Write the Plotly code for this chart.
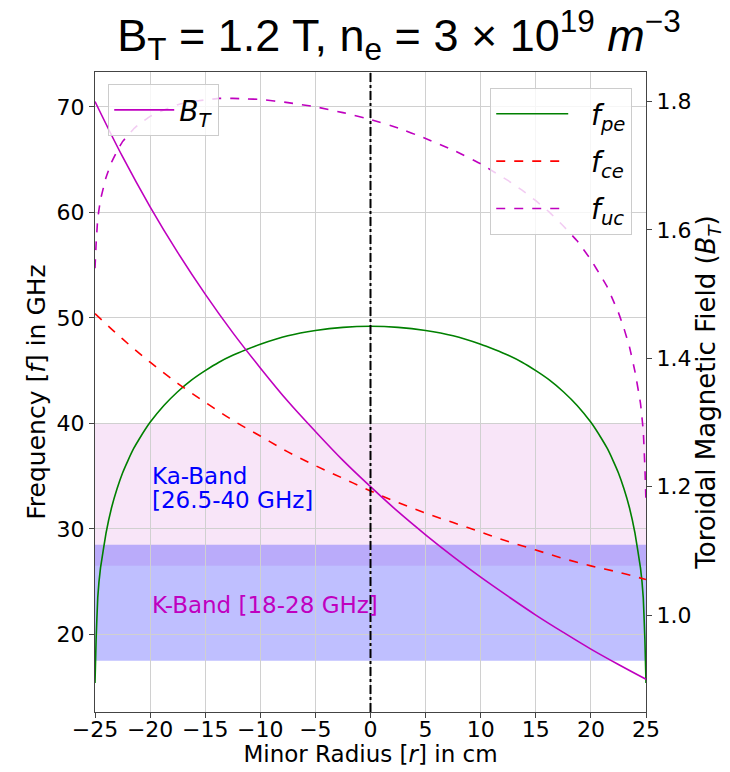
import plotly.graph_objects as go

# ---- data ----
r_coarse = [-25, -22.5, -20, -17.5, -15, -12.5, -10, -7.5, -5, -2.5, 0,
            2.5, 5, 7.5, 10, 12.5, 15, 17.5, 20, 22.5, 25]
B_T = [1.800, 1.714, 1.636, 1.565, 1.500, 1.440, 1.385, 1.333, 1.286, 1.241, 1.200,
       1.161, 1.125, 1.091, 1.059, 1.029, 1.000, 0.973, 0.947, 0.923, 0.900]
f_ce = [50.4, 48.0, 45.8, 43.8, 42.0, 40.3, 38.8, 37.3, 36.0, 34.8, 33.6,
        32.5, 31.5, 30.6, 29.7, 28.8, 28.0, 27.2, 26.5, 25.9, 25.2]

r_fine = [-25, -24.9, -24.75, -24.5, -24, -23.5, -23, -22.5, -22, -21.5, -21, -20,
          -18.75, -17.5, -16.25, -15, -13.75, -12.5, -11.25, -10, -7.5, -5, -2.5, 0,
          2.5, 5, 7.5, 10, 11.25, 12.5, 13.75, 15, 16.25, 17.5, 18.75, 20,
          21, 21.5, 22, 22.5, 23, 23.5, 24, 24.5, 24.75, 24.9, 25]
f_pe = [15.4, 19.5, 23.5, 26.3, 29.6, 32.0, 33.8, 35.3, 36.5, 37.6, 38.5, 40.1,
        41.7, 43.0, 44.1, 45.0, 45.8, 46.45, 47.0, 47.5, 48.3, 48.8, 49.1, 49.2,
        49.1, 48.8, 48.3, 47.5, 47.0, 46.45, 45.8, 45.0, 44.1, 43.0, 41.7, 40.1,
        38.5, 37.6, 36.5, 35.3, 33.8, 32.0, 29.6, 26.3, 23.5, 19.5, 15.4]
f_uc = [54.7, 57.0, 59.4, 61.2, 63.3, 64.75, 65.8, 66.7, 67.3, 67.9, 68.35, 69.1,
        69.7, 70.2, 70.5, 70.65, 70.8, 70.8, 70.75, 70.7, 70.4, 70.0, 69.45, 68.8,
        68.0, 67.0, 65.9, 64.6, 63.8, 63.0, 62.1, 61.1, 60.0, 58.7, 57.3, 55.5,
        53.8, 52.9, 51.7, 50.5, 49.0, 47.25, 44.9, 41.9, 39.3, 35.8, 32.5]

ka_band = [26.5, 40.0]
k_band = [17.5, 28.5]
x_ticks = [-25, -20, -15, -10, -5, 0, 5, 10, 15, 20, 25]
y_ticks = [20, 30, 40, 50, 60, 70]
y2_ticks = [1.0, 1.2, 1.4, 1.6, 1.8]

GREEN = "#008000"
RED = "#ff0000"
MAG = "#bf00bf"
FONT = "DejaVu Sans"
SP = "&nbsp;&nbsp;"

fig = go.Figure()

# bands
fig.add_shape(type="rect", xref="paper", yref="y", x0=0, x1=1, y0=ka_band[0], y1=ka_band[1],
              fillcolor="rgba(191,0,191,0.1)", line_width=0, layer="below")
fig.add_shape(type="rect", xref="paper", yref="y", x0=0, x1=1, y0=k_band[0], y1=k_band[1],
              fillcolor="rgba(0,0,255,0.25)", line_width=0, layer="below")

fig.add_trace(go.Scatter(x=r_fine, y=f_pe, mode="lines", name=SP + "<i>f<sub>pe</sub></i>",
                         line=dict(color=GREEN, width=1.6, shape="spline", smoothing=0.3),
                         legend="legend2", legendgroup="a"))
fig.add_trace(go.Scatter(x=r_coarse, y=f_ce, mode="lines", name=SP + "<i>f<sub>ce</sub></i>",
                         line=dict(color=RED, width=1.6, dash="dash", shape="spline"),
                         legend="legend2", legendgroup="b"))
fig.add_trace(go.Scatter(x=r_fine, y=f_uc, mode="lines", name=SP + "<i>f<sub>uc</sub></i>",
                         line=dict(color=MAG, width=1.6, dash="dash", shape="spline", smoothing=0.3),
                         legend="legend2", legendgroup="c"))
fig.add_trace(go.Scatter(x=r_coarse, y=B_T, mode="lines", name="<i>B<sub>T</sub></i>",
                         line=dict(color=MAG, width=1.6, shape="spline"),
                         yaxis="y2", legend="legend"))

fig.add_vline(x=0, line=dict(color="black", width=2, dash="dashdot"))

fig.add_annotation(x=-20, y=35.0, xref="x", yref="y", text="Ka-Band",
                   showarrow=False, xanchor="left", yanchor="middle", align="left",
                   font=dict(family=FONT, size=23, color="blue"))
fig.add_annotation(x=-20, y=32.7, xref="x", yref="y", text="[26.5-40 GHz]",
                   showarrow=False, xanchor="left", yanchor="middle", align="left",
                   font=dict(family=FONT, size=23, color="blue"))
fig.add_annotation(x=-20, y=22.8, xref="x", yref="y", text="K-Band [18-28 GHz]",
                   showarrow=False, xanchor="left", yanchor="middle", align="left",
                   font=dict(family=FONT, size=23, color=MAG))

axis_common = dict(showline=True, linecolor="#444", linewidth=1.2, ticks="outside",
                   ticklen=5, tickcolor="#444", tickfont=dict(family=FONT, size=22, color="black"),
                   zeroline=False, automargin=False)

fig.update_layout(
    width=730, height=772,
    margin=dict(l=95, r=84, t=72, b=60),
    paper_bgcolor="white", plot_bgcolor="white",
    showlegend=True,
    title=dict(text="B<sub>T</sub> = 1.2 T, n<sub>e</sub> = 3 × 10<sup>19</sup> <i>m</i><sup>−3</sup>",
               x=399 / 730, xanchor="center", xref="container", y=1 - 35 / 772,
               yanchor="middle", yref="container",
               font=dict(family="Liberation Sans", size=45, color="black")),
    xaxis=dict(range=[-25, 25], tickvals=x_ticks, showgrid=True, gridcolor="#d0d0d0",
               mirror=True, ticklabelstandoff=-8,
               title=dict(text="Minor Radius [<i>r</i>] in cm",
                          font=dict(family=FONT, size=23, color="black"), standoff=0),
               **axis_common),
    yaxis=dict(range=[12.65, 73.3], tickvals=y_ticks, showgrid=True, gridcolor="#d0d0d0",
               title=dict(text="Frequency [<i>f</i>] in GHz",
                          font=dict(family=FONT, size=25, color="black"), standoff=3),
               **axis_common),
    yaxis2=dict(range=[0.849, 1.846], tickvals=y2_ticks, tickformat=".1f", overlaying="y",
                side="right", showgrid=False,
                title=dict(text="Toroidal Magnetic Field (<i>B<sub>T</sub></i>)",
                           font=dict(family=FONT, size=26, color="black"), standoff=4),
                **axis_common),
    legend=dict(x=0.024, y=0.981, xanchor="left", yanchor="top",
                bgcolor="rgba(255,255,255,0.8)", bordercolor="#cccccc", borderwidth=1,
                font=dict(family=FONT, size=28, color="black"), itemwidth=60),
    legend2=dict(x=0.975, y=0.975, xanchor="right", yanchor="top",
                 bgcolor="rgba(255,255,255,0.8)", bordercolor="#cccccc", borderwidth=1,
                 font=dict(family=FONT, size=28, color="black"), itemwidth=72,
                 tracegroupgap=8),
)

fig.write_html("out.html")
